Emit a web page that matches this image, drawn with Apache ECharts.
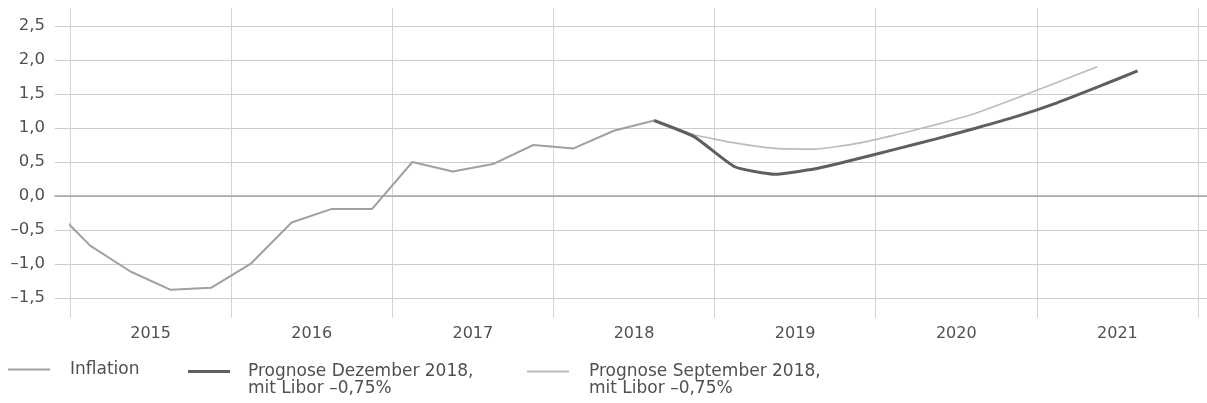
<!DOCTYPE html>
<html><head><meta charset="utf-8">
<script src="https://cdn.jsdelivr.net/npm/echarts@6/dist/echarts.min.js"></script>
<style>html,body{margin:0;padding:0;background:#fff}#c{width:1207px;height:403px}</style>
</head><body><div id="c"></div>
<script>
// ---- data ----
const years = ['2015','2016','2017','2018','2019','2020','2021'];
const inflationQuarters = ['2014 Q4','2015 Q1','2015 Q2','2015 Q3','2015 Q4','2016 Q1','2016 Q2','2016 Q3','2016 Q4','2017 Q1','2017 Q2','2017 Q3','2017 Q4','2018 Q1','2018 Q2','2018 Q3'];
const inflationValues = [-0.13,-0.73,-1.11,-1.38,-1.35,-0.99,-0.39,-0.19,-0.19,0.50,0.36,0.47,0.75,0.70,0.96,1.11];
const decQuarters = ['2018 Q3','2018 Q4','2019 Q1','2019 Q2','2019 Q3','2019 Q4','2020 Q1','2020 Q2','2020 Q3','2020 Q4','2021 Q1','2021 Q2','2021 Q3'];
const decValues = [1.11,0.87,0.43,0.32,0.40,0.54,0.69,0.84,1.00,1.17,1.37,1.60,1.84];
const sepQuarters = ['2018 Q3','2018 Q4','2019 Q1','2019 Q2','2019 Q3','2019 Q4','2020 Q1','2020 Q2','2020 Q3','2020 Q4','2021 Q1','2021 Q2'];
const sepValues = [1.11,0.90,0.78,0.70,0.69,0.77,0.90,1.05,1.22,1.44,1.67,1.90];
const seriesNames = ['Inflation','Prognose Dezember 2018,\nmit Libor –0,75%','Prognose September 2018,\nmit Libor –0,75%'];

// ---- helpers ----
function qx(label){ const p = label.split(' Q'); return Number(p[0]) + (Number(p[1]) - 0.5) / 4; }
function pairs(qs, vs){ return qs.map((q,i)=>[qx(q), vs[i]]); }
const FONT = 'DejaVu Sans';
const TXT = '#505050';
// a leading blank line keeps the first text line level with the legend icon
const twoLine = name => ' \n' + name;

const chart = echarts.init(document.getElementById('c'), null, {renderer:'canvas'});
chart.setOption({
  animation: false,
  backgroundColor: '#fff',
  grid: [
    {left: 55, right: 0, top: 26, bottom: 105, outerBoundsMode: 'none'},
    {left: 70, right: 9, top: 26, bottom: 105, outerBoundsMode: 'none'},
    {left: 70, right: 9, top: 8, bottom: 85, outerBoundsMode: 'none'}
  ],
  xAxis: [
    {gridIndex: 0, type: 'value', min: 0, max: 1,
     axisLine: {show: true, onZero: true, lineStyle: {color: '#a4a4a4', width: 1.5}},
     axisTick: {show: false}, axisLabel: {show: false}, splitLine: {show: false}},
    {gridIndex: 1, type: 'value', min: 2015, max: 2022, show: false},
    {gridIndex: 2, type: 'value', min: 2015, max: 2022, interval: 1, position: 'top',
     axisLine: {show: false}, axisTick: {show: false}, axisLabel: {show: false},
     splitLine: {show: true, lineStyle: {color: '#d4d4d4', width: 1}}},
    {gridIndex: 2, type: 'category', data: years, position: 'bottom', boundaryGap: true,
     axisLine: {show: false}, axisTick: {show: false}, splitLine: {show: false},
     axisLabel: {margin: 8, fontFamily: FONT, fontSize: 16, color: TXT}}
  ],
  yAxis: [
    {gridIndex: 0, type: 'value', min: -1.5, max: 2.5, interval: 0.5,
     axisLine: {show: false}, axisTick: {show: false},
     splitLine: {show: true, lineStyle: {color: '#cdcdcd', width: 1}},
     axisLabel: {margin: 10, fontFamily: FONT, fontSize: 16.5, color: TXT,
       formatter: v => (v < 0 ? '–' : '') + Math.abs(v).toFixed(1).replace('.', ',')}},
    {gridIndex: 1, type: 'value', min: -1.5, max: 2.5, show: false},
    {gridIndex: 2, type: 'value', min: 0, max: 1, show: false}
  ],
  legend: [
    {data: [seriesNames[0]], left: 8, top: 361, icon: 'rect', itemWidth: 42, itemHeight: 2,
     selectedMode: false, padding: 0,
     textStyle: {fontFamily: FONT, fontSize: 17, color: TXT, lineHeight: 17, padding: [0,0,0,15]}},
    {data: [seriesNames[1]], left: 188, top: 346, icon: 'rect', itemWidth: 42, itemHeight: 3,
     selectedMode: false, padding: 0, formatter: twoLine,
     textStyle: {fontFamily: FONT, fontSize: 17, color: TXT, lineHeight: 17, padding: [0,0,0,13]}},
    {data: [seriesNames[2]], left: 527, top: 346, icon: 'rect', itemWidth: 42, itemHeight: 2,
     selectedMode: false, padding: 0, formatter: twoLine,
     textStyle: {fontFamily: FONT, fontSize: 17, color: TXT, lineHeight: 17, padding: [0,0,0,15]}}
  ],
  series: [
    {name: seriesNames[0], type: 'line', xAxisIndex: 1, yAxisIndex: 1, z: 3,
     data: pairs(inflationQuarters, inflationValues), symbol: 'none', showSymbol: false,
     lineStyle: {color: '#a0a0a0', width: 2}, itemStyle: {color: '#a0a0a0'}},
    {name: seriesNames[2], type: 'line', xAxisIndex: 1, yAxisIndex: 1, z: 3, smooth: 0.15,
     data: pairs(sepQuarters, sepValues), symbol: 'none', showSymbol: false,
     lineStyle: {color: '#bcbcbc', width: 1.7}, itemStyle: {color: '#bcbcbc'}},
    {name: seriesNames[1], type: 'line', xAxisIndex: 1, yAxisIndex: 1, z: 4, smooth: 0.15,
     data: pairs(decQuarters, decValues), symbol: 'none', showSymbol: false,
     lineStyle: {color: '#5f5f5f', width: 3}, itemStyle: {color: '#5f5f5f'}}
  ]
});
</script></body></html>
